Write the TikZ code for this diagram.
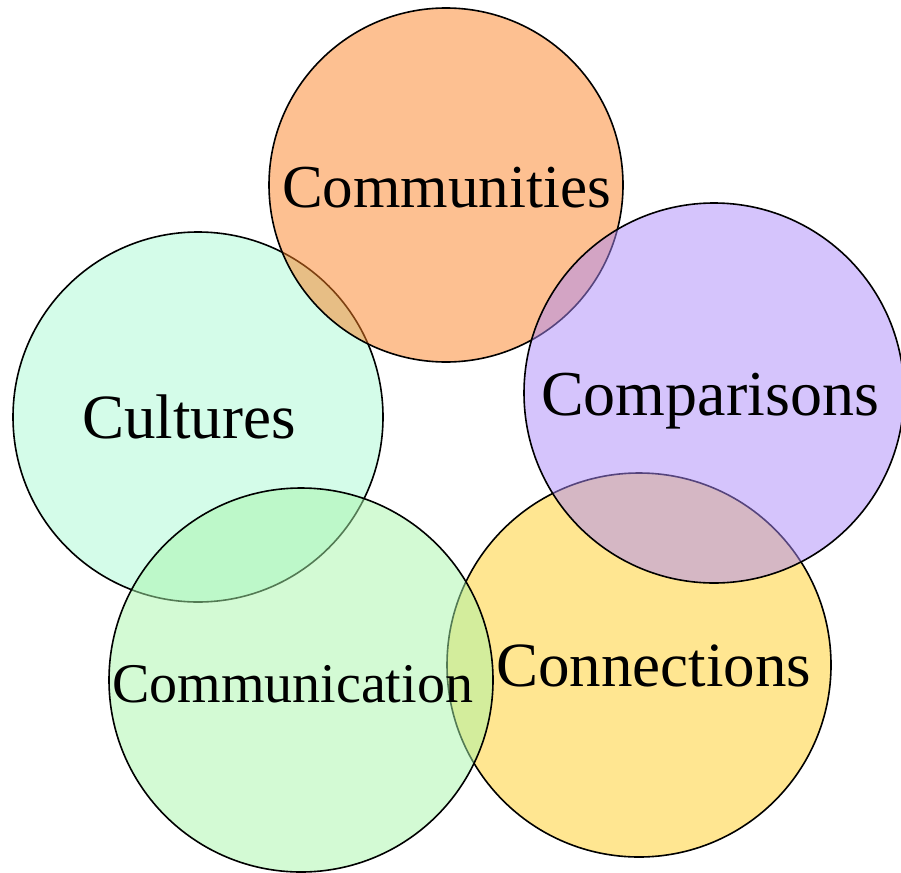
\documentclass[tikz,border=0pt]{standalone}
\usepackage{fontspec}
\setmainfont{Liberation Serif}
\definecolor{cOrange}{RGB}{251,129,35}
\definecolor{cPurple}{RGB}{171,137,249}
\definecolor{cMint}{RGB}{169,249,211}
\definecolor{cGreen}{RGB}{167,245,169}
\definecolor{cYellow}{RGB}{255,205,35}
\tikzset{
  ring/.style={circle, draw=black, line width=1.6pt, fill opacity=0.5, draw opacity=1, inner sep=0pt},
  lbl/.style={anchor=base west, inner sep=0pt, text=black}
}
\begin{document}
\begin{tikzpicture}[x=1pt,y=-1pt]
\useasboundingbox (0,0) rectangle (901,872);
\node[ring, fill=cMint, minimum size=370pt] (cul) at (198,417) {};
\node[ring, fill=cYellow, minimum size=384pt] (con) at (639,665) {};
\node[ring, fill=cOrange, minimum size=354pt] (com) at (446,185) {};
\node[ring, fill=cPurple, minimum size=380pt] (cmp) at (714,393) {};
\node[ring, fill=cGreen, minimum size=384pt] (cmm) at (301,680) {};
\node[lbl, font=\fontsize{61}{70}\selectfont] (tcom) at (282,207) {Communities};
\node[lbl, font=\fontsize{64}{72}\selectfont] (tcmp) at (541,415) {Comparisons};
\node[lbl, font=\fontsize{63}{72}\selectfont] (tcul) at (82,438) {Cultures};
\node[lbl, font=\fontsize{56}{64}\selectfont] (tcmm) at (112,702) {Communication};
\node[lbl, font=\fontsize{63}{72}\selectfont] (tcon) at (496,686) {Connections};
\end{tikzpicture}
\end{document}
